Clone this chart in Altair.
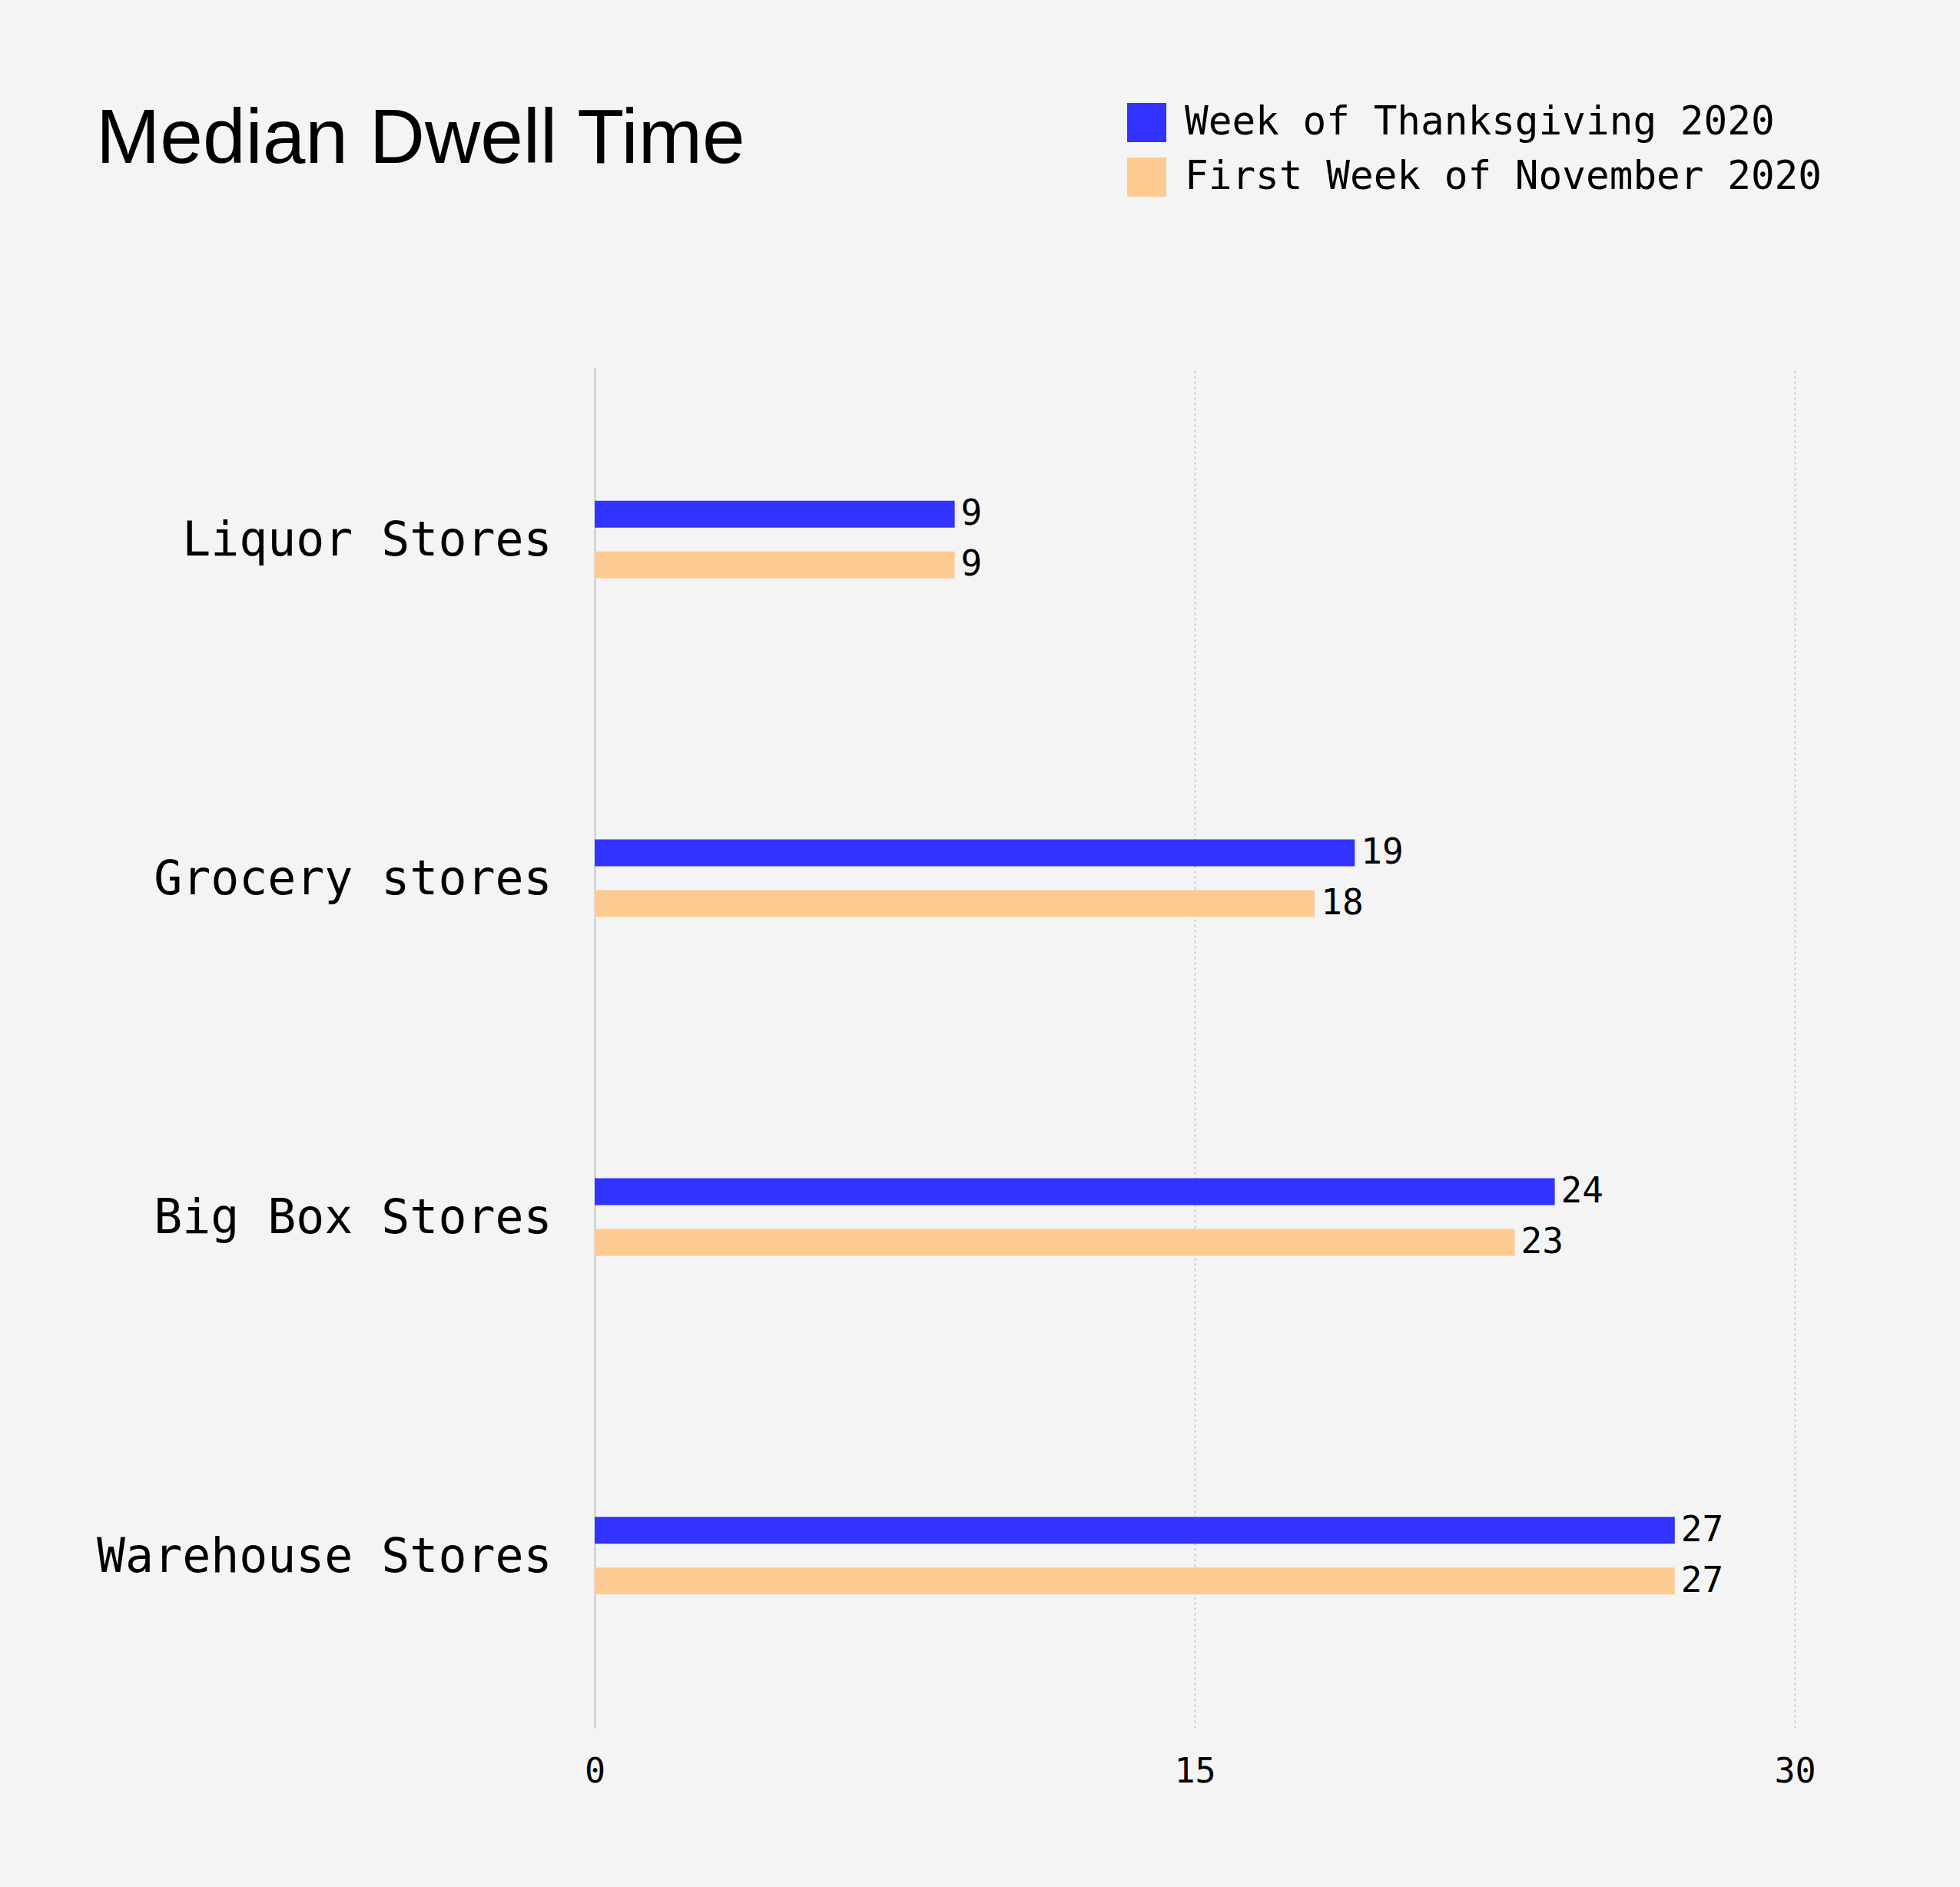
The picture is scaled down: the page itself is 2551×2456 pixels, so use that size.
import altair as alt
import pandas as pd

# Median dwell time (minutes) by store type, two weeks compared
categories = ["Liquor Stores", "Grocery stores", "Big Box Stores", "Warehouse Stores"]
series_names = ["Week of Thanksgiving 2020", "First Week of November 2020"]
thanksgiving = [9, 19, 24, 27]
november = [9, 18, 23, 27]
series_colors = ["#3333ff", "#fdcb92"]
x_ticks = [0, 15, 30]

rows = []
for store, a, b in zip(categories, thanksgiving, november):
    rows.append({"store": store, "week": series_names[0], "minutes": a})
    rows.append({"store": store, "week": series_names[1], "minutes": b})
df = pd.DataFrame(rows)

mono = "DejaVu Sans Mono"

y_enc = alt.Y(
    "store:N",
    sort=categories,
    title=None,
    scale=alt.Scale(paddingInner=0.771, paddingOuter=0.394),
    axis=alt.Axis(
        labelFont=mono, labelFontSize=61.5, labelColor="black", labelPadding=56,
        labelOffset=3, labelLimit=0, ticks=False, tickSize=0, domain=True,
        domainColor="#cccccc", domainWidth=2, grid=False,
    ),
)
yoff_enc = alt.YOffset(
    "week:N", sort=series_names,
    scale=alt.Scale(paddingInner=0.47, paddingOuter=0),
)
x_enc = alt.X(
    "minutes:Q",
    title=None,
    scale=alt.Scale(domain=[0, 30], nice=False),
    axis=alt.Axis(
        values=x_ticks, labelFont=mono, labelFontSize=45, labelColor="black",
        labelPadding=34, ticks=False, tickSize=0, domain=False, grid=True,
        gridDash=[3, 4], gridColor="#cccccc", gridWidth=2, labelFlush=False,
    ),
)
color_enc = alt.Color(
    "week:N",
    sort=series_names,
    scale=alt.Scale(domain=series_names, range=series_colors),
    legend=alt.Legend(
        title=None, orient="none", legendX=693, legendY=-344,
        symbolType="square", symbolSize=2601, symbolStrokeWidth=0,
        symbolOpacity=1, labelFont=mono, labelFontSize=51, labelColor="black",
        labelOffset=24, labelLimit=0, rowPadding=19, padding=0,
    ),
)

bars = alt.Chart(df).mark_bar().encode(
    x=x_enc, y=y_enc, yOffset=yoff_enc, color=color_enc
)
labels = alt.Chart(df).mark_text(
    align="left", baseline="middle", dx=8, font=mono, fontSize=46, color="black"
).encode(
    x=alt.X("minutes:Q"), y=alt.Y("store:N", sort=categories),
    yOffset=alt.YOffset("week:N", sort=series_names), text="minutes:Q"
)

chart = alt.layer(bars, labels).properties(
    width=1562,
    height=1771,
    title=alt.TitleParams(
        "Median Dwell Time", anchor="start", frame="group",
        font="Liberation Sans", fontSize=100, fontWeight="normal",
        color="black", dx=-649, offset=-178, baseline="alphabetic",
    ),
    autosize=alt.AutoSizeParams(type="none"),
    padding={"left": 774, "top": 478, "right": 215, "bottom": 207},
    background="#f4f4f4",
).configure_view(stroke=None)

chart.save("out.html", embed_options={"renderer": "svg", "actions": False})
